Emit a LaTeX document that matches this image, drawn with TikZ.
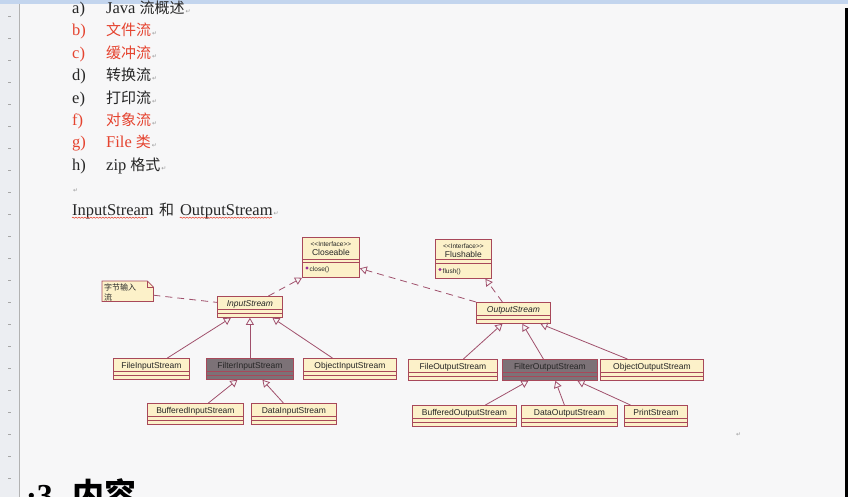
\documentclass[tikz,border=0pt]{standalone}
\usepackage{fontspec}
\setmainfont{Liberation Serif}
\newfontfamily\cjk{Noto Sans CJK SC}
\newfontfamily\umlf{Liberation Sans}
\newfontfamily\symf{DejaVu Sans}
\usepackage{xcolor}
\usetikzlibrary{positioning,calc,arrows.meta,decorations.pathmorphing}
\definecolor{pagebg}{HTML}{F7F7F8}
\definecolor{itemred}{HTML}{E5432F}
\definecolor{txt}{HTML}{262626}
\definecolor{umlline}{HTML}{A0506C}
\definecolor{umlborder}{HTML}{A8485A}
\definecolor{umlfill}{HTML}{FCF1C9}
\definecolor{umldark}{HTML}{7C7277}
\definecolor{markpurple}{HTML}{9A2A9A}
\definecolor{rulerbg}{HTML}{ECEEF2}
\definecolor{rulertop}{HTML}{C3D5EE}
\newcommand{\retmark}{{\symf\fontsize{6}{6}\selectfont\color{gray!80}\,↵}}
\newcommand{\zh}[1]{{\cjk\fontsize{15}{16}\selectfont #1}}
\pgfkeys{tikz/cls/.style={draw=umlborder,line width=0.8pt,fill=umlfill,rectangle,anchor=north west,inner sep=0pt,minimum height=21,text height=6pt,text depth=6pt,font=\umlf\fontsize{8.5}{9}\selectfont,text=txt}}
\pgfkeys{tikz/abs/.style={cls,font=\umlf\itshape\fontsize{8.5}{9}\selectfont}}
\pgfkeys{tikz/gen/.style={draw=umlline,line width=0.8pt,-{Triangle[open,length=7pt,width=8pt]}}}
\pgfkeys{tikz/real/.style={gen,dash pattern=on 7pt off 5pt}}
\pgfkeys{tikz/sep/.style={draw=umlborder,line width=0.8pt}}

\begin{document}
\begin{tikzpicture}[x=1pt,y=-1pt]
\useasboundingbox (0,0) rectangle (848,497);
\clip (0,0) rectangle (848,497);
\fill[pagebg] (0,0) rectangle (848,497);
% word rulers
\fill[rulertop] (0,0) rectangle (848,4);
\fill[rulerbg] (0,4) rectangle (19,497);
\draw[gray!60] (19,4) -- (19,497);
\foreach \t in {16,38,...,490} \draw[gray!70] (8,\t) -- (11,\t);
\fill[black] (845,8) rectangle (848,497);
% list
\foreach \b/\lb/\tx/\c in {13.5/a)/Java \zh{流概述}/txt,
                          36/b)/\zh{文件流}/itemred,
                          58.4/c)/\zh{缓冲流}/itemred,
                          80.8/d)/\zh{转换流}/txt,
                          103.2/e)/\zh{打印流}/txt,
                          125.6/f)/\zh{对象流}/itemred,
                          148/g)/File \zh{类}/itemred,
                          170.4/h)/zip \zh{格式}/txt}
{
  \node[anchor=base west,inner sep=0pt,text=\c,font=\fontsize{16.5}{18}\selectfont] (lb\b) at (72,\b) {\lb};
  \node[anchor=base west,inner sep=0pt,text=\c,font=\fontsize{16.5}{18}\selectfont] (it\b) at (106,\b) {\tx\retmark};
}
\node[anchor=base west,inner sep=0pt] (emp) at (72,192.8) {\retmark};
\node[anchor=base west,inner sep=0pt,text=txt,font=\fontsize{16.5}{18}\selectfont] (w1) at (72,215.2) {InputStream};
\node[base right=5pt of w1,inner sep=0pt,text=txt] (w2) {\zh{和}};
\node[base right=5.5pt of w2,inner sep=0pt,text=txt,font=\fontsize{16.5}{18}\selectfont] (w3) {OutputStream\retmark};
\foreach \w in {w1,w3}
  \draw[itemred,line width=0.5pt,decorate,decoration={snake,amplitude=0.6pt,segment length=3pt}]
    ([yshift=-2.5pt]\w.base west) -- ([xshift=-7pt,yshift=-2.5pt]\w.base east);
\node[anchor=base west,inner sep=0pt] (emp2) at (735,436) {\retmark};
\node[anchor=base west,inner sep=0pt,text=black,font=\bfseries\fontsize{32}{34}\selectfont] (hd) at (26,506) {·3\hspace{0.6em}{\cjk\bfseries 内容}};

% interfaces
\node[cls,minimum width=57,minimum height=40] (cl) at (302,237) {};
\node[inner sep=0pt,text=txt,font=\umlf\fontsize{6.5}{7}\selectfont] (clst) at ($(cl.north)+(0,7)$) {<<Interface>>};
\node[inner sep=0pt,text=txt,font=\umlf\fontsize{8.5}{9}\selectfont] (clnm) at ($(cl.north)+(0,15.5)$) {Closeable};
\draw[sep] ($(cl.north west)+(0,22)$) -- ($(cl.north east)+(0,22)$) ($(cl.north west)+(0,25.5)$) -- ($(cl.north east)+(0,25.5)$);
\fill[markpurple] ($(cl.north west)+(5,31)$) circle (1.7);
\node[anchor=west,inner sep=0pt,text=txt,font=\umlf\fontsize{6.5}{7}\selectfont] (clop) at ($(cl.north west)+(7.5,33)$) {close()};

\node[cls,minimum width=56,minimum height=39] (fl) at (435,239) {};
\node[inner sep=0pt,text=txt,font=\umlf\fontsize{6.5}{7}\selectfont] (flst) at ($(fl.north)+(0,6.7)$) {<<Interface>>};
\node[inner sep=0pt,text=txt,font=\umlf\fontsize{8.5}{9}\selectfont] (flnm) at ($(fl.north)+(0,15)$) {Flushable};
\draw[sep] ($(fl.north west)+(0,20.5)$) -- ($(fl.north east)+(0,20.5)$) ($(fl.north west)+(0,24)$) -- ($(fl.north east)+(0,24)$);
\fill[markpurple] ($(fl.north west)+(5,30.5)$) circle (1.7);
\node[anchor=west,inner sep=0pt,text=txt,font=\umlf\fontsize{6.5}{7}\selectfont] (flop) at ($(fl.north west)+(7.5,32.5)$) {flush()};

% abstract classes
\node[abs,minimum width=65] (is) at (217,296) {InputStream};
\node[abs,minimum width=74] (os) at (476,302) {OutputStream};
% classes
\foreach \n/\x/\y/\w/\f/\t in {fis/113/358/76/umlfill/FileInputStream,
                               filis/206/358/87/umldark/FilterInputStream,
                               ois/303/358/93/umlfill/ObjectInputStream,
                               bis/147/403/96/umlfill/BufferedInputStream,
                               dis/251/403/85/umlfill/DataInputStream,
                               fos/408/359/89/umlfill/FileOutputStream,
                               filos/502/359/95/umldark/FilterOutputStream,
                               oos/600/359/103/umlfill/ObjectOutputStream,
                               bos/412/405/104/umlfill/BufferedOutputStream,
                               dos/521/405/96/umlfill/DataOutputStream,
                               ps/624/405/63/umlfill/PrintStream}
  \node[cls,fill=\f,minimum width=\w] (\n) at (\x,\y) {\t};
\foreach \n in {is,os,fis,filis,ois,bis,dis,fos,filos,oos,bos,dos,ps}
  \draw[sep] ($(\n.north west)+(0,13.5)$) -- ($(\n.north east)+(0,13.5)$)
             ($(\n.north west)+(0,17)$) -- ($(\n.north east)+(0,17)$);

% note
\node[anchor=north west,minimum width=51,minimum height=20,inner sep=0pt] (note) at (102,281) {};
\draw[umlborder,line width=0.8pt,fill=umlfill] (note.north west) -- ([xshift=-6pt]note.north east) -- ([yshift=-6pt]note.north east) -- (note.south east) -- (note.south west) -- cycle;
\draw[umlborder,line width=0.6pt] ([xshift=-6pt]note.north east) -- ([xshift=-6pt,yshift=-6pt]note.north east) -- ([yshift=-6pt]note.north east);
\node[anchor=north west,align=left,inner sep=0pt,text=txt,font=\cjk\fontsize{8}{10}\selectfont] (notetxt) at ($(note.north west)+(2,2.5)$) {字节输入\\流};
\draw[umlline,line width=0.8pt,dash pattern=on 7pt off 5pt] ([yshift=-4pt]note.east) -- ([yshift=4.5pt]is.west);

% realization
\draw[real] ([xshift=18.5pt]is.north) -- (cl.south west);
\draw[real] (os.north west) -- ([yshift=-11pt]cl.east);
\draw[real] ([xshift=-11pt]os.north) -- ([xshift=22pt]fl.south);
% generalization
\draw[gen] ([xshift=16pt]fis.north) -- ([xshift=-19pt]is.south);
\draw[gen] (filis.north) -- (is.south);
\draw[gen] ([xshift=-17.5pt]ois.north) -- ([xshift=22.5pt]is.south);
\draw[gen] ([xshift=13pt]bis.north) -- ([xshift=-12.5pt]filis.south);
\draw[gen] ([xshift=-10.5pt]dis.north) -- ([xshift=12.5pt]filis.south);
\draw[gen] ([xshift=10.5pt]fos.north) -- ([xshift=-11pt]os.south);
\draw[gen] ([xshift=-6.5pt]filos.north) -- ([xshift=9pt]os.south);
\draw[gen] ([xshift=-24.5pt]oos.north) -- ([xshift=27pt]os.south);
\draw[gen] ([xshift=21pt]bos.north) -- ([xshift=-21.5pt]filos.south);
\draw[gen] ([xshift=-5pt]dos.north) -- ([xshift=5.5pt]filos.south);
\draw[gen] ([xshift=-25.5pt]ps.north) -- ([xshift=27.5pt]filos.south);
\end{tikzpicture}
\end{document}
